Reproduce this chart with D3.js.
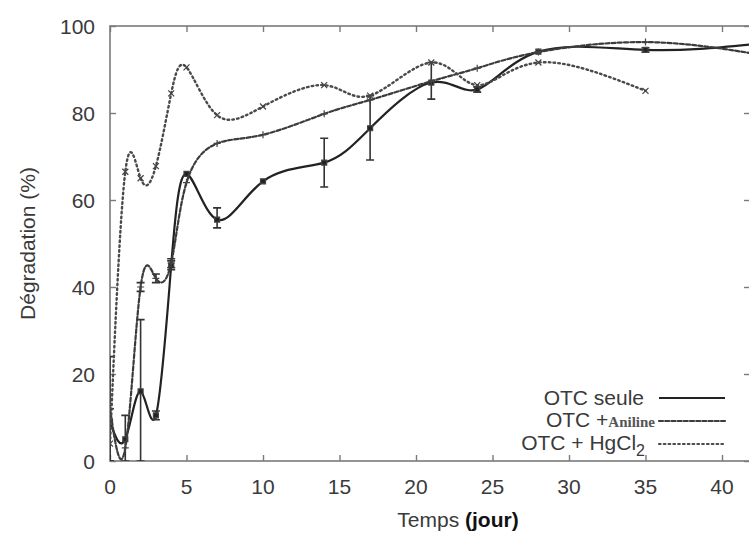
<!DOCTYPE html>
<html>
<head>
<meta charset="utf-8">
<script src="https://cdn.jsdelivr.net/npm/d3@7/dist/d3.min.js"></script>
<style>
  html, body { margin: 0; padding: 0; background: #fff; overflow: hidden; }
  svg { display: block; }
  svg text { font-family: 'Liberation Sans', Arial, sans-serif; fill: #3a3a3a; }
</style>
</head>
<body>
<div class="chart"></div>
<script>
// ticks
const xTicks = [0, 5, 10, 15, 20, 25, 30, 35, 40];
const yTicks = [0, 20, 40, 60, 80, 100];

// OTC seule
const seuleDays = [0, 1, 2, 3, 4, 5, 7, 10, 14, 17, 21, 24, 28, 35, 42];
const seuleValues = [9, 5, 16, 10.5, 45, 66, 55.5, 64.3, 68.6, 76.5, 87, 85.4, 94.1, 94.5, 95.8];
const seuleLow = [0, 0, 0, 9.5, 44, null, 53.6, null, 63, 69.2, 83.2, 84.8, null, 94, null];
const seuleHigh = [12, 10.5, 32.5, 11.5, 46, null, 58.2, null, 74.2, 84, 91.6, 86, null, 95, null];

// OTC + Aniline
const anilineDays = [0, 1, 2, 3, 4, 5, 7, 10, 14, 17, 21, 24, 28, 35, 42];
const anilineValues = [12, 3, 40, 42, 45.5, 64, 73, 75, 79.8, 83, 87.3, 90.3, 94, 96.3, 93.7];
const anilineLow = [0, null, 39, 41, 44.5, null, null, null, null, null, null, null, null, null, null];
const anilineHigh = [24, null, 41, 43, 46.5, null, null, null, null, null, null, null, null, null, null];

// OTC + HgCl2
const hgDays = [0, 1, 2, 3, 4, 5, 7, 10, 14, 17, 21, 24, 28, 35];
const hgValues = [4, 66.5, 65, 67.8, 84.5, 90.5, 79.5, 81.5, 86.4, 84, 91.6, 86.4, 91.6, 85.1];

const width = 749;
const height = 534;
const margin = {top: 26, left: 110};
const innerWidth = 640;
const innerHeight = 435;

// scales in page coordinates so every label sits at absolute x/y
const xScale = d3.scaleLinear().domain([0, 41.83]).range([margin.left, margin.left + innerWidth]);
const yScale = d3.scaleLinear().domain([0, 100]).range([margin.top + innerHeight, margin.top]);

const svg = d3.select('.chart')
  .append('svg')
  .attr('width', width)
  .attr('height', height);

svg.append('defs').append('clipPath')
  .attr('id', 'plot-clip')
  .append('rect')
  .attr('x', margin.left)
  .attr('y', margin.top)
  .attr('width', innerWidth)
  .attr('height', innerHeight);

// frame (right side sits just past the window edge, as in the original)
svg.append('rect')
  .attr('x', margin.left)
  .attr('y', margin.top)
  .attr('width', innerWidth)
  .attr('height', innerHeight)
  .attr('fill', 'none')
  .attr('stroke', '#7a7a7a')
  .attr('stroke-width', 1.6);

// inward tick marks on all four sides (labels drawn separately below)
const tickLen = 6;
const tickColor = '#7a7a7a';

function tickMarks(g) {
  g.select('.domain').remove();
  g.selectAll('.tick text').remove();
  g.selectAll('.tick line').attr('stroke', tickColor).attr('stroke-width', 1.4);
}

svg.append('g').attr('transform', `translate(0, ${margin.top + innerHeight})`)
  .call(d3.axisBottom(xScale).tickValues(xTicks).tickSize(-tickLen)).call(tickMarks);
svg.append('g').attr('transform', `translate(0, ${margin.top})`)
  .call(d3.axisTop(xScale).tickValues(xTicks).tickSize(-tickLen)).call(tickMarks);
svg.append('g').attr('transform', `translate(${margin.left}, 0)`)
  .call(d3.axisLeft(yScale).tickValues(yTicks).tickSize(-tickLen)).call(tickMarks);
svg.append('g').attr('transform', `translate(${margin.left + innerWidth}, 0)`)
  .call(d3.axisRight(yScale).tickValues(yTicks).tickSize(-tickLen)).call(tickMarks);

// tick labels
svg.append('g').attr('class', 'x-labels')
  .selectAll('text')
  .data(xTicks)
  .enter().append('text')
  .attr('x', d => xScale(d))
  .attr('y', margin.top + innerHeight + 33)
  .attr('text-anchor', 'middle')
  .attr('font-size', 21)
  .text(d => d);

svg.append('g').attr('class', 'y-labels')
  .selectAll('text')
  .data(yTicks)
  .enter().append('text')
  .attr('x', margin.left - 15)
  .attr('y', d => yScale(d) + 7.5)
  .attr('text-anchor', 'end')
  .attr('font-size', 21)
  .text(d => d);

// axis titles
svg.append('text')
  .attr('transform', `translate(35, ${margin.top + innerHeight / 2}) rotate(-90)`)
  .attr('text-anchor', 'middle')
  .attr('font-size', 21)
  .text('Dégradation (%)');

const xLabel = svg.append('text')
  .attr('x', 458)
  .attr('y', 527)
  .attr('text-anchor', 'middle')
  .attr('font-size', 21);
xLabel.append('tspan').text('Temps ');
xLabel.append('tspan').attr('font-weight', 'bold').attr('fill', '#111').text('(jour)');

// curves
const plot = svg.append('g').attr('clip-path', 'url(#plot-clip)');

function seriesData(days, values, low, high) {
  return days.map((d, i) => ({
    day: d,
    value: values[i],
    low: low ? low[i] : null,
    high: high ? high[i] : null
  }));
}

const series = [
  {key: 'seule', data: seriesData(seuleDays, seuleValues, seuleLow, seuleHigh), dash: null, color: '#222', width: 2.2, marker: 'square'},
  {key: 'aniline', data: seriesData(anilineDays, anilineValues, anilineLow, anilineHigh), dash: '4,2.2', color: '#3c3c3c', width: 2.2, marker: 'plus'},
  {key: 'hg', data: seriesData(hgDays, hgValues), dash: '1.6,3.2', color: '#4a4a4a', width: 2.4, marker: 'cross'}
];

const line = d3.line()
  .x(d => xScale(d.day))
  .y(d => yScale(d.value))
  .curve(d3.curveNatural);

series.forEach(s => {
  const g = plot.append('g').attr('class', s.key);

  g.append('path')
    .attr('d', line(s.data))
    .attr('fill', 'none')
    .attr('stroke', s.color)
    .attr('stroke-width', s.width)
    .attr('stroke-dasharray', s.dash)
    .attr('stroke-linecap', s.dash ? 'round' : 'butt');

  // error bars
  const bars = s.data.filter(d => d.low !== null && d.high !== null);
  g.selectAll('.err')
    .data(bars)
    .enter().append('path')
    .attr('class', 'err')
    .attr('fill', 'none')
    .attr('stroke', '#333')
    .attr('stroke-width', 1.6)
    .attr('d', d => {
      const x = xScale(d.day), y0 = yScale(d.low), y1 = yScale(d.high);
      return `M${x},${y0}V${y1}M${x - 4},${y0}H${x + 4}M${x - 4},${y1}H${x + 4}`;
    });

  // point markers
  g.selectAll('.pt')
    .data(s.data)
    .enter().append('path')
    .attr('class', 'pt')
    .attr('transform', d => `translate(${xScale(d.day)}, ${yScale(d.value)})`)
    .attr('fill', s.marker === 'square' ? '#222' : 'none')
    .attr('stroke', '#444')
    .attr('stroke-width', 1.2)
    .attr('d', s.marker === 'square' ? 'M-2.5,-2.5h5v5h-5Z'
      : s.marker === 'plus' ? 'M-3.5,0H3.5M0,-3.5V3.5'
      : 'M-3,-3L3,3M-3,3L3,-3');
});

// legend
const legend = svg.append('g').attr('class', 'legend');
const legendRows = [
  {y: 405, lineY: 398, dash: null, color: '#222'},
  {y: 427, lineY: 421, dash: '4,2.2', color: '#3c3c3c'},
  {y: 450, lineY: 444, dash: '1.6,3.2', color: '#4a4a4a'}
];

legend.append('text').attr('x', 644).attr('y', legendRows[0].y)
  .attr('text-anchor', 'end').attr('font-size', 21).text('OTC seule');

const t2 = legend.append('text').attr('x', 655).attr('y', legendRows[1].y)
  .attr('text-anchor', 'end').attr('font-size', 21);
t2.append('tspan').text('OTC +');
t2.append('tspan')
  .style('font-family', "'Liberation Serif', 'Times New Roman', serif")
  .attr('font-size', 15)
  .attr('font-weight', 'bold')
  .attr('fill', '#555')
  .text('Aniline');

const t3 = legend.append('text').attr('x', 645).attr('y', legendRows[2].y)
  .attr('text-anchor', 'end').attr('font-size', 21);
t3.append('tspan').text('OTC + HgCl');
t3.append('tspan').attr('dy', 6).attr('font-size', 16).text('2');

legend.selectAll('line')
  .data(legendRows)
  .enter().append('line')
  .attr('x1', 659)
  .attr('x2', 725)
  .attr('y1', d => d.lineY)
  .attr('y2', d => d.lineY)
  .attr('stroke', d => d.color)
  .attr('stroke-width', 2.2)
  .attr('stroke-dasharray', d => d.dash)
  .attr('stroke-linecap', d => d.dash ? 'round' : 'butt');
</script>
</body>
</html>
